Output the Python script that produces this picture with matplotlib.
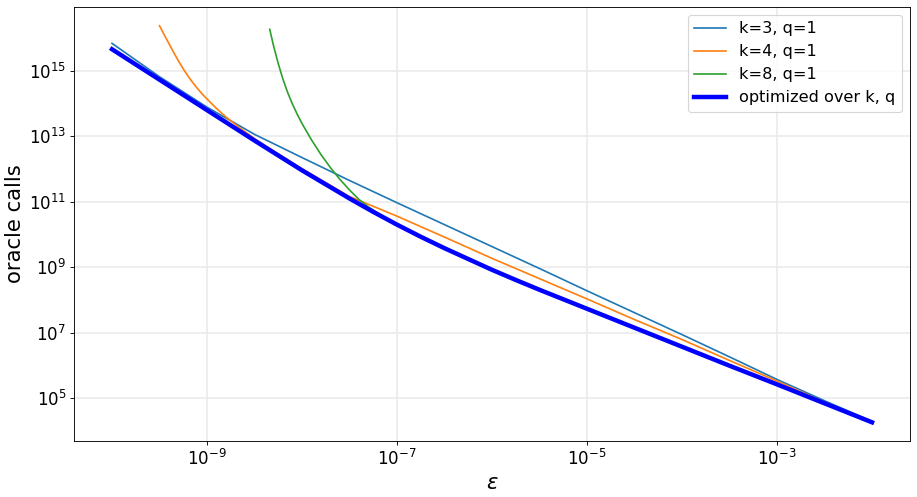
import matplotlib
matplotlib.use('Agg')
import matplotlib.pyplot as plt
import matplotlib.ticker as mticker

# epsilon grid and oracle calls for each curve
eps_k3 = [1e-10, 10**-9.5, 1e-9, 10**-8.5, 1e-8, 10**-7.5, 1e-7, 10**-6.5, 1e-6,
          10**-5.5, 1e-5, 10**-4.5, 1e-4, 10**-3.5, 1e-3, 10**-2.5, 1e-2]
calls_k3 = [10**15.84, 10**14.82, 10**13.89, 10**13.06, 10**12.35, 10**11.65,
            10**10.97, 10**10.30, 10**9.63, 10**8.96, 10**8.28, 10**7.61,
            10**6.94, 10**6.26, 10**5.57, 10**4.92, 10**4.29]

eps_k4 = [10**-9.5, 10**-9.45, 10**-9.4, 10**-9.35, 10**-9.3, 10**-9.25, 10**-9.2,
          10**-9.15, 10**-9.1, 10**-9.05, 1e-9, 10**-8.9, 10**-8.8, 10**-8.7,
          10**-8.6, 10**-8.5, 10**-8.25, 1e-8, 10**-7.5, 1e-7, 10**-6.5, 1e-6,
          10**-5.5, 1e-5, 10**-4.5, 1e-4, 10**-3.5, 1e-3, 10**-2.5, 1e-2]
calls_k4 = [10**16.38, 10**16.10, 10**15.83, 10**15.56, 10**15.30, 10**15.06,
            10**14.84, 10**14.64, 10**14.46, 10**14.29, 10**14.14, 10**13.85,
            10**13.59, 10**13.36, 10**13.14, 10**12.93, 10**12.46, 10**12.01,
            10**11.16, 10**10.56, 10**9.92, 10**9.27, 10**8.65, 10**8.03,
            10**7.40, 10**6.79, 10**6.15, 10**5.52, 10**4.87, 10**4.25]

eps_k8 = [10**-8.34, 10**-8.32, 10**-8.3, 10**-8.25, 10**-8.2, 10**-8.15, 10**-8.1,
          10**-8.05, 1e-8, 10**-7.9, 10**-7.8, 10**-7.7, 10**-7.6, 10**-7.5,
          10**-7.4, 10**-7.3, 10**-7.2, 10**-7.1, 1e-7, 10**-6.5, 1e-6, 10**-5.5,
          1e-5, 10**-4.5, 1e-4, 10**-3.5, 1e-3, 10**-2.5, 1e-2]
calls_k8 = [10**16.27, 10**16.02, 10**15.77, 10**15.22, 10**14.74, 10**14.33,
            10**13.98, 10**13.67, 10**13.39, 10**12.89, 10**12.44, 10**12.04,
            10**11.68, 10**11.36, 10**11.07, 10**10.84, 10**10.65, 10**10.48,
            10**10.32, 10**9.60, 10**8.94, 10**8.33, 10**7.75, 10**7.17,
            10**6.59, 10**6.01, 10**5.44, 10**4.86, 10**4.28]

eps_opt = [1e-10, 10**-9.5, 1e-9, 10**-8.5, 1e-8, 10**-7.75, 10**-7.5, 10**-7.25,
           1e-7, 10**-6.75, 10**-6.5, 10**-6.25, 1e-6, 10**-5.75, 10**-5.5,
           10**-5.25, 1e-5, 10**-4.5, 1e-4, 10**-3.5, 1e-3, 10**-2.5, 1e-2]
calls_opt = [10**15.66, 10**14.73, 10**13.80, 10**12.87, 10**11.96, 10**11.53,
             10**11.10, 10**10.69, 10**10.30, 10**9.93, 10**9.58, 10**9.25,
             10**8.92, 10**8.61, 10**8.31, 10**8.02, 10**7.73, 10**7.15,
             10**6.57, 10**5.99, 10**5.42, 10**4.84, 10**4.26]

fig = plt.figure(figsize=(917/80, 497/80), dpi=80)
ax = fig.add_axes([0.0807, 0.1127, 0.9117, 0.8738])

ax.plot(eps_k3, calls_k3, color='C0', lw=1.5, label='k=3, q=1')
ax.plot(eps_k4, calls_k4, color='C1', lw=1.5, label='k=4, q=1')
ax.plot(eps_k8, calls_k8, color='C2', lw=1.5, label='k=8, q=1')
ax.plot(eps_opt, calls_opt, color='blue', lw=4, label='optimized over k, q')

ax.set_xscale('log')
ax.set_yscale('log')
ax.xaxis.set_major_locator(mticker.FixedLocator([1e-9, 1e-7, 1e-5, 1e-3]))
ax.yaxis.set_major_locator(mticker.FixedLocator([1e5, 1e7, 1e9, 1e11, 1e13, 1e15]))
ax.xaxis.set_minor_locator(mticker.NullLocator())
ax.yaxis.set_minor_locator(mticker.NullLocator())
ax.xaxis.set_major_formatter(mticker.LogFormatterSciNotation())
ax.yaxis.set_major_formatter(mticker.LogFormatterSciNotation())
ax.set_xlim(10**-10.4, 10**-1.6)
ax.set_ylim(10**3.69, 10**16.96)

ax.grid(True, color='#ebebeb', lw=1.5)
ax.set_axisbelow(True)
ax.tick_params(labelsize=15)
ax.set_xlabel(r'$\epsilon$', fontsize=19)
ax.set_ylabel('oracle calls', fontsize=19)
ax.legend(loc='upper right', fontsize=14.5)

fig.savefig('out.png', dpi=80)
